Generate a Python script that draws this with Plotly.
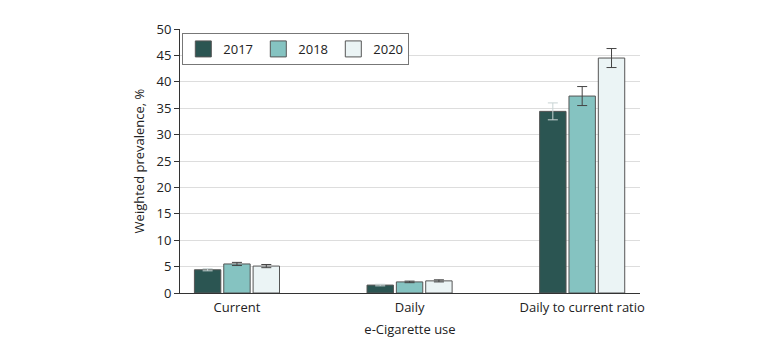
import plotly.graph_objects as go

categories = ["Current", "Daily", "Daily to current ratio"]
years = ["2017", "2018", "2020"]
values = {
    "2017": [4.4, 1.5, 34.4],
    "2018": [5.5, 2.1, 37.3],
    "2020": [5.1, 2.3, 44.5],
}
err_plus = {
    "2017": [0.2, 0.15, 1.6],
    "2018": [0.3, 0.15, 1.8],
    "2020": [0.3, 0.2, 1.8],
}
err_minus = {
    "2017": [0.2, 0.15, 1.6],
    "2018": [0.3, 0.15, 1.8],
    "2020": [0.3, 0.2, 1.8],
}
colors = {"2017": "#2b5552", "2018": "#85c3c1", "2020": "#ebf4f5"}
err_colors = {"2017": "#c8d4d4", "2018": "#444444", "2020": "#444444"}

fig = go.Figure()
xs = list(range(len(categories)))
for y in years:
    fig.add_trace(go.Bar(
        x=xs, y=values[y], name=y, showlegend=False,
        marker=dict(color=colors[y], line=dict(color="#555555", width=1)),
        error_y=dict(type="data", array=err_plus[y], arrayminus=err_minus[y],
                     color=err_colors[y], thickness=1, width=5),
    ))
# legend-only entries with larger square swatches
for y in years:
    fig.add_trace(go.Scatter(
        x=[None], y=[None], mode="markers", name=y,
        marker=dict(symbol="square", size=16, color=colors[y],
                    line=dict(color="#555555", width=1)),
    ))

font = "Open Sans"
fig.update_layout(
    width=780, height=348,
    margin=dict(l=172, r=148, t=12, b=63),
    barmode="group", bargap=0.49, bargroupgap=0.1,
    plot_bgcolor="white", paper_bgcolor="white",
    font=dict(family=font, size=13, color="#222222"),
    legend=dict(orientation="h", x=0.005, y=0.985, xanchor="left", yanchor="top",
                bordercolor="#777777", borderwidth=1, bgcolor="white",
                font=dict(size=13), itemwidth=30, itemsizing="trace",
                entrywidthmode="pixels", entrywidth=30),
    showlegend=True,
)
fig.update_xaxes(
    tickvals=xs, ticktext=categories,
    range=[-0.33, 2.335], showline=True, linecolor="#333333", linewidth=1,
    ticks="", showgrid=False, zeroline=False, ticklabelstandoff=2,
    title=dict(text="e-Cigarette use", font=dict(size=13), standoff=10),
    tickfont=dict(size=13),
)
fig.update_yaxes(
    range=[0, 50], dtick=5, showline=True, linecolor="#333333", linewidth=1,
    ticks="outside", ticklen=5, tickcolor="#333333",
    showgrid=True, gridcolor="#dddddd", gridwidth=1, zeroline=False,
    title=dict(text="Weighted prevalence, %", font=dict(size=13), standoff=8),
    tickfont=dict(size=13),
)
fig.write_html("out.html")
